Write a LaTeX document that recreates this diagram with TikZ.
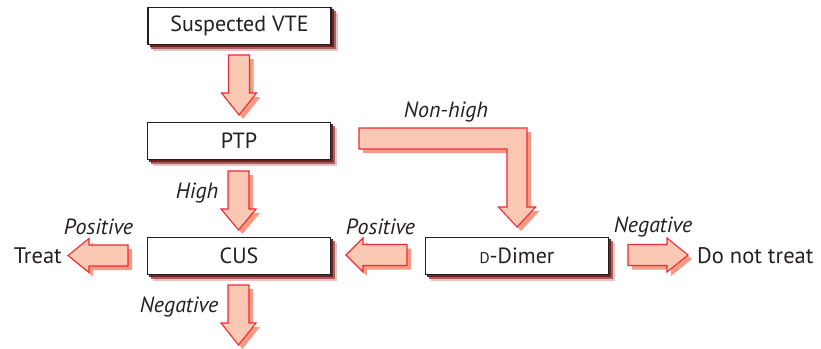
\documentclass[tikz,border=0pt]{standalone}
\usepackage{fontspec}
\setmainfont{PT Sans}
\usetikzlibrary{calc,backgrounds}
\definecolor{arrowfill}{HTML}{FBC8B4}
\definecolor{arrowline}{HTML}{EC2B35}
\definecolor{arrowshade}{HTML}{F29A84}
\definecolor{boxshadeA}{HTML}{6E2222}
\definecolor{boxshadeB}{HTML}{A86060}
\definecolor{boxshadeC}{HTML}{E2C4C4}
\definecolor{ink}{HTML}{231F20}

% block arrow pointing down: centre x, top, head base, tip
\newcommand\vblock[4]{%
  \fill[arrowshade,xshift=4pt,yshift=-4pt]
    ({#1-10.5},#2) -- ({#1+10.5},#2) -- ({#1+10.5},#3) -- ({#1+17.5},#3)
    -- (#1,#4) -- ({#1-17.5},#3) -- ({#1-10.5},#3) -- cycle;
  \draw[blockarrow]
    ({#1-10.5},#2) -- ({#1+10.5},#2) -- ({#1+10.5},#3) -- ({#1+17.5},#3)
    -- (#1,#4) -- ({#1-17.5},#3) -- ({#1-10.5},#3) -- cycle;}
% horizontal block arrow: centre y, tail x, head base x, tip x
\newcommand\hblock[4]{%
  \fill[arrowshade,xshift=4pt,yshift=-4pt]
    (#2,{#1-10.5}) -- (#3,{#1-10.5}) -- (#3,{#1-17}) -- (#4,#1)
    -- (#3,{#1+17}) -- (#3,{#1+10.5}) -- (#2,{#1+10.5}) -- cycle;
  \draw[blockarrow]
    (#2,{#1-10.5}) -- (#3,{#1-10.5}) -- (#3,{#1-17}) -- (#4,#1)
    -- (#3,{#1+17}) -- (#3,{#1+10.5}) -- (#2,{#1+10.5}) -- cycle;}

\tikzset{
  blockarrow/.style={fill=arrowfill,draw=arrowline,line width=1.1pt,line join=miter},
  stepbox/.style={draw=ink,line width=1.1pt,fill=white,minimum width=183pt,
    minimum height=37pt,inner sep=0pt,text=ink,font=\fontsize{22}{25}\selectfont},
  lbl/.style={text=ink,inner sep=0pt,font=\fontsize{22}{25}\selectfont\itshape},
  outcome/.style={text=ink,inner sep=0pt,font=\fontsize{22.5}{25}\selectfont},
}

% soft drop shadow below and right of a box
\newcommand\boxshadow[1]{%
  \fill[boxshadeC] ($(#1.north west)+(6,6)$) rectangle ($(#1.south east)+(6,6)$);
  \fill[boxshadeB] ($(#1.north west)+(4,4)$) rectangle ($(#1.south east)+(4,4)$);
  \fill[boxshadeA] ($(#1.north west)+(2.2,2.2)$) rectangle ($(#1.south east)+(2.2,2.2)$);}

\begin{document}
\begin{tikzpicture}[x=1pt,y=-1pt]
\useasboundingbox (0,0) rectangle (821,348);

% step boxes
\node[stepbox] (vte) at (239.5,26) {Suspected VTE};
\node[stepbox] (ptp) at (239,141) {PTP};
\node[stepbox] (cus) at (239,256) {CUS};
\node[stepbox] (dd)  at (517,256) {{\fontsize{15.5}{17}\selectfont D}-Dimer};

\begin{scope}[on background layer]
\boxshadow{vte}\boxshadow{ptp}\boxshadow{cus}\boxshadow{dd}
\end{scope}

% outcomes
\node[outcome,anchor=east] (treat) at (62,256) {Treat};
\node[outcome,anchor=west] (notreat) at (697,256) {Do not treat};

% vertical block arrows
\vblock{239}{55}{93}{115}
\vblock{238.5}{171}{209}{230}
\vblock{238.5}{285}{323}{345}

% horizontal block arrows
\hblock{255.5}{128}{89}{68}
\hblock{255}{407}{363}{346}
\hblock{255}{628}{667}{688}

% bent arrow from PTP to D-dimer
\fill[arrowshade,xshift=4pt,yshift=-4pt]
  (359,128) -- (527,128) -- (527,207) -- (535.5,207) -- (517,227)
  -- (498.5,207) -- (507,207) -- (507,149) -- (359,149) -- cycle;
\draw[blockarrow]
  (359,128) -- (527,128) -- (527,207) -- (535.5,207) -- (517,227)
  -- (498.5,207) -- (507,207) -- (507,149) -- (359,149) -- cycle;
\draw[arrowshade!60,line width=0.4pt] (507.6,148.4) -- (526.4,128.6);

% branch labels
\node[lbl] (lnonhigh) at (446,112) {Non-high};
\node[lbl] (lhigh) at (197,193) {High};
\node[lbl] (lpos1) at (98.5,227) {Positive};
\node[lbl] (lpos2) at (380.5,227) {Positive};
\node[lbl] (lneg1) at (653,227) {Negative};
\node[lbl] (lneg2) at (179,307) {Negative};
\end{tikzpicture}
\end{document}
